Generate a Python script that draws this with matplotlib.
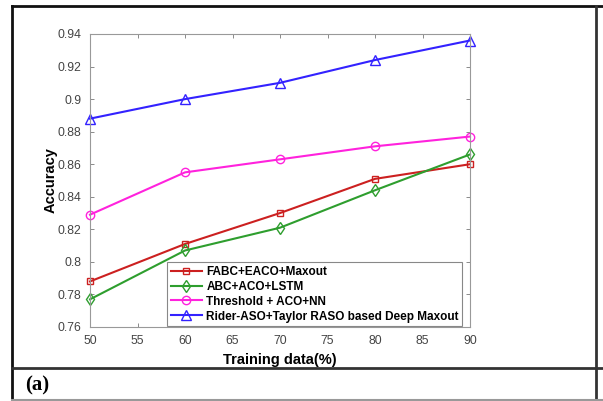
import matplotlib
matplotlib.use("Agg")
import matplotlib.pyplot as plt
from matplotlib.lines import Line2D

plt.rcParams['font.family'] = ['Liberation Sans', 'DejaVu Sans']

# data
training = [50, 60, 70, 80, 90]
fabc_eaco = [0.788, 0.811, 0.830, 0.851, 0.860]
abc_aco = [0.777, 0.807, 0.821, 0.844, 0.866]
threshold_aco = [0.829, 0.855, 0.863, 0.871, 0.877]
rider_aso = [0.888, 0.900, 0.910, 0.924, 0.936]

labels = ["FABC+EACO+Maxout", "ABC+ACO+LSTM", "Threshold + ACO+NN",
          "Rider-ASO+Taylor RASO based Deep Maxout"]
xticks = [50, 55, 60, 65, 70, 75, 80, 85, 90]
yticks = [0.76, 0.78, 0.8, 0.82, 0.84, 0.86, 0.88, 0.9, 0.92, 0.94]
ytick_labels = ["0.76", "0.78", "0.8", "0.82", "0.84", "0.86", "0.88", "0.9", "0.92", "0.94"]

W, H = 603, 401
fig = plt.figure(figsize=(W / 100, H / 100), dpi=100)
ax = fig.add_axes([90 / W, 1 - 327 / H, 380 / W, 293 / H])

styles = [(fabc_eaco, '#cc2020', 's', 5),
          (abc_aco, '#2e9e2e', 'd', 6),
          (threshold_aco, '#ff22dd', 'o', 6),
          (rider_aso, '#3322ff', '^', 7)]
for (vals, c, m, ms), lab in zip(styles, labels):
    ax.plot(training, vals, color=c, marker=m, markersize=ms,
            markerfacecolor='none', linewidth=1.5, label=lab, clip_on=False)

ax.set_xlim(50, 90)
ax.set_ylim(0.76, 0.94)
ax.set_xticks(xticks)
ax.set_xticklabels([str(v) for v in xticks])
ax.set_yticks(yticks)
ax.set_yticklabels(ytick_labels)
ax.tick_params(direction='in', top=True, right=True, length=3, width=0.6,
               colors='#777777', labelcolor='#444444', labelsize=8.8, pad=6)
for s in ax.spines.values():
    s.set_color('#999999')
    s.set_linewidth(0.8)

ax.set_xlabel("Training data(%)", fontsize=10.5, fontweight='bold', labelpad=4)
ax.set_ylabel("Accuracy", fontsize=10.5, fontweight='bold', labelpad=0)

leg = ax.legend(loc='lower right', bbox_to_anchor=(0.98, 0.003), borderaxespad=0,
                prop={'size': 8.5, 'weight': 'bold'}, fancybox=False,
                edgecolor='#888888', framealpha=1, handlelength=2.6,
                labelspacing=0.25, borderpad=0.3, handletextpad=0.4)
leg.get_frame().set_linewidth(0.8)

# table frame around the figure
def fx(x):
    return x / W

def fy(y):
    return 1 - y / H

frame = [((12.3, 12.3), (5.5, 401), '#111111', 2.0),
         ((12.3, 603), (5.5, 5.5), '#111111', 2.0),
         ((595.7, 595.7), (5.5, 401), '#333333', 2.0),
         ((12.3, 603), (368.3, 368.3), '#333333', 2.0),
         ((12.3, 603), (399.5, 399.5), '#999999', 1.5)]
for xs, ys, c, lw in frame:
    fig.add_artist(Line2D([fx(xs[0]), fx(xs[1])], [fy(ys[0]), fy(ys[1])],
                          color=c, linewidth=lw, transform=fig.transFigure))

fig.text(fx(25), fy(385), "(a)", fontsize=15, fontweight='bold',
         family=['Liberation Serif', 'DejaVu Serif'], va='center', ha='left')

fig.savefig("out.png", dpi=100)
